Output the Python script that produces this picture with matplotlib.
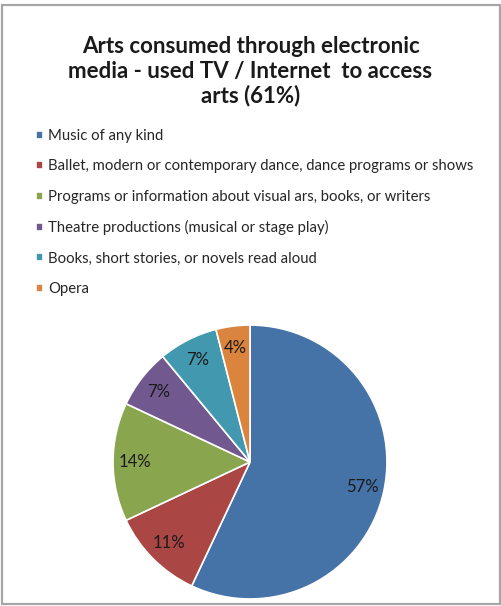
import matplotlib.pyplot as plt
from matplotlib.patches import Rectangle

plt.rcParams['font.family'] = ['Lato', 'DejaVu Sans']

# Data
categories = [
    'Music of any kind',
    'Ballet, modern or contemporary dance, dance programs or shows',
    'Programs or information about visual ars, books, or writers',
    'Theatre productions (musical or stage play)',
    'Books, short stories, or novels read aloud',
    'Opera',
]
shares = [57, 11, 14, 7, 7, 4]
colors = ['#4572A7', '#AA4643', '#89A54E', '#71588F', '#4198AF', '#DB843D']
title = 'Arts consumed through electronic\nmedia - used TV / Internet  to access\narts (61%)'

fig = plt.figure(figsize=(5.01, 6.06), dpi=100)

# chart border
fig.patches.append(Rectangle((0.004, 0.004), 0.994, 0.988, transform=fig.transFigure,
                             fill=False, edgecolor='#a6a6a6', linewidth=1.6))

fig.text(0.5, 0.882, title, ha='center', va='center', fontsize=16, fontweight='bold',
         color='#1a1a1a', linespacing=1.2)

ax = fig.add_axes([0.2255, 0.0116, 0.547, 0.452])
wedges, texts, autotexts = ax.pie(shares, colors=colors, startangle=90, counterclock=False,
                                  autopct='%.0f%%', pctdistance=0.84,
                                  wedgeprops=dict(edgecolor='white', linewidth=1.2),
                                  textprops=dict(fontsize=12, color='#1a1a1a'))
ax.set_xlim(-1, 1)
ax.set_ylim(-1, 1)
ax.set_aspect('equal')

fig.legend(wedges, categories, loc='upper left', bbox_to_anchor=(0.045, 0.809),
           frameon=False, fontsize=10.7, handlelength=0.45, handleheight=0.45,
           handletextpad=0.38, labelspacing=1.1, labelcolor='#262626')

fig.savefig('out.png', dpi=100)
